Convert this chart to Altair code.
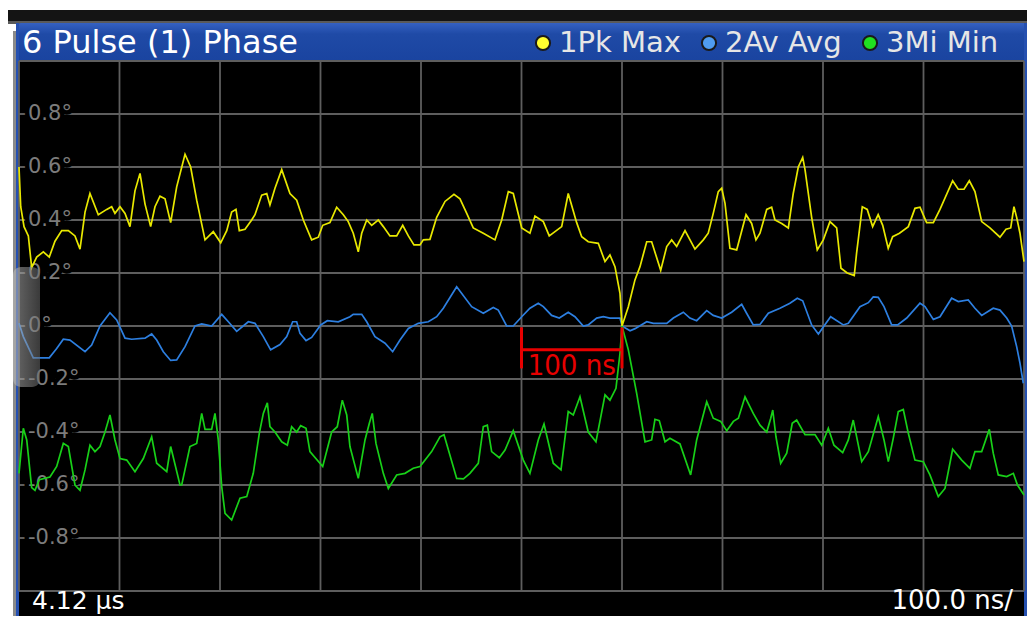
import altair as alt
import pandas as pd

# ---------------- data ----------------
x_grid = [0, 100, 200, 300, 400, 500, 600, 700, 800, 900, 1000]
y_grid = [-1.0, -0.8, -0.6, -0.4, -0.2, 0.0, 0.2, 0.4, 0.6, 0.8, 1.0]
y_tick_values = [0.8, 0.6, 0.4, 0.2, 0.0, -0.2, -0.4, -0.6, -0.8]
y_tick_labels = ["0.8°", "0.6°", "0.4°", "0.2°", "0°", "-0.2°", "-0.4°", "-0.6°", "-0.8°"]

trace_names = ["1Pk Max", "2Av Avg", "3Mi Min"]
trace_colors = ["#e8e800", "#2d7fe0", "#18d018"]
legend_dot_colors = ["#ffff30", "#4f9cf0", "#20e020"]

max_t = [0, 1.7, 5, 9.3, 12.6, 17.6, 24.2, 30.1, 35.8, 42.5, 49.1, 55.7, 60.7, 65.7, 70.6, 78.9,
         87.3, 92.2, 95.5, 100.5, 105.5, 110.4, 115.4, 120.4, 125.4, 131, 135.3, 140.3, 145.3,
         150.9, 156.9, 165.2, 170.8, 176.8, 185.1, 193.3, 200.7, 206.7, 211.6, 215.9, 219.2,
         224.9, 231.5, 234.8, 241.5, 246.5, 249.7, 254.7, 261.4, 269.6, 276.3, 282.9, 291.2,
         297.8, 302.2, 309.4, 316.1, 322.7, 327.6, 332.6, 337.6, 341, 346, 350.9, 357.5, 362.5,
         369.1, 375.8, 381.8, 387.4, 393, 399, 402.3, 408.9, 415.6, 423.9, 432.8, 438.8, 445.5,
         452, 462, 473.6, 480.3, 486.9, 491.8, 500.2, 508.4, 513.4, 521.7, 527.6, 533.3, 540,
         546.5, 554.9, 559.9, 566.4, 576.4, 583.1, 588, 593, 598, 600, 606.3, 612.9, 617.9,
         624.6, 629.5, 638.5, 644.5, 649.4, 654.4, 662.7, 672.6, 680.9, 685.8, 690.8, 695.8,
         699.2, 702.5, 707.4, 714.1, 723.4, 729, 733.3, 737.3, 744, 748.9, 752.2, 758.9, 765.5,
         770.4, 775.4, 779.8, 782.1, 788.7, 794.3, 800.3, 806.9, 813.6, 817.9, 824.1, 831.1,
         833.4, 839.1, 844, 849.4, 854.9, 859.4, 864.9, 869.3, 876.1, 884.9, 891.5, 896.5,
         903.1, 909.8, 916.4, 929, 934.6, 940.3, 945.6, 951.2, 957.9, 966.1, 976.1, 982.1,
         986.8, 990, 992.7, 996, 1000]
max_v = [0.60, 0.45, 0.375, 0.34, 0.22, 0.26, 0.28, 0.26, 0.32, 0.36, 0.36, 0.34, 0.29, 0.43,
         0.50, 0.42, 0.44, 0.45, 0.425, 0.45, 0.425, 0.375, 0.51, 0.576, 0.46, 0.375, 0.45,
         0.49, 0.48, 0.39, 0.525, 0.648, 0.60, 0.475, 0.325, 0.356, 0.314, 0.36, 0.43, 0.44,
         0.36, 0.365, 0.40, 0.42, 0.494, 0.50, 0.457, 0.52, 0.59, 0.50, 0.475, 0.40, 0.325,
         0.335, 0.38, 0.39, 0.448, 0.42, 0.394, 0.35, 0.28, 0.35, 0.40, 0.38, 0.40, 0.375,
         0.34, 0.34, 0.38, 0.34, 0.306, 0.306, 0.325, 0.327, 0.41, 0.47, 0.497, 0.48, 0.425,
         0.37, 0.35, 0.325, 0.40, 0.507, 0.50, 0.37, 0.35, 0.415, 0.394, 0.34, 0.356, 0.375,
         0.50, 0.39, 0.337, 0.318, 0.312, 0.243, 0.268, 0.224, 0.123, 0.0, 0.073, 0.174, 0.224,
         0.318, 0.318, 0.21, 0.30, 0.325, 0.30, 0.36, 0.29, 0.325, 0.35, 0.425, 0.507, 0.52,
         0.463, 0.293, 0.287, 0.42, 0.387, 0.325, 0.35, 0.44, 0.448, 0.40, 0.387, 0.37, 0.50,
         0.60, 0.636, 0.59, 0.41, 0.287, 0.325, 0.394, 0.37, 0.218, 0.20, 0.19, 0.274, 0.45,
         0.44, 0.375, 0.42, 0.38, 0.293, 0.337, 0.35, 0.375, 0.444, 0.448, 0.39, 0.39, 0.44,
         0.548, 0.516, 0.516, 0.548, 0.507, 0.394, 0.37, 0.335, 0.365, 0.37, 0.45, 0.41, 0.35,
         0.243]

avg_t = [0, 4.3, 14.2, 30.1, 37.5, 44.1, 50.7, 65.7, 72.3, 80.6, 90.5, 97.2, 105.5, 112.1,
         125.4, 132, 137, 143.6, 150.9, 156.9, 165.2, 175.1, 181.8, 191.7, 201.7, 208.3, 216.6,
         228.2, 234.8, 243.1, 250.4, 259.7, 266.4, 272.3, 276.3, 279.6, 285.6, 291.2, 300.2,
         306.8, 317.7, 329.3, 332.6, 341, 346, 354.2, 364.2, 371.8, 379.1, 387.4, 397.3, 407.3,
         415.6, 422.2, 435.5, 450.4, 462, 471.9, 476.9, 485.2, 491.8, 500.2, 508.4, 516.7,
         521.7, 530, 537.6, 546.5, 553.2, 561.5, 566.4, 574.8, 581.4, 588, 598, 600, 608, 613,
         624.6, 631.2, 644.5, 651.1, 661, 667.6, 674.3, 684.3, 690.8, 699.2, 709.1, 719.1, 724,
         730.6, 737.3, 745.6, 757.2, 767.1, 774.4, 779.8, 788.7, 795.4, 801, 807.6, 820.2,
         825.2, 836.8, 845.1, 850, 855, 860.7, 868.3, 874.3, 883.3, 896.5, 901.5, 909.8, 916.4,
         928, 934.6, 944.5, 951.2, 957.9, 969.4, 976.1, 982.8, 987.7, 992.7, 996, 999.3]
avg_v = [0.01, -0.04, -0.12, -0.12, -0.085, -0.05, -0.053, -0.097, -0.072, 0.0, 0.05, 0.023,
         -0.046, -0.05, -0.046, -0.03, -0.053, -0.097, -0.13, -0.128, -0.078, 0.0, 0.008, 0.0,
         0.044, 0.016, -0.02, 0.016, 0.01, -0.04, -0.09, -0.07, -0.04, 0.016, 0.016, -0.028,
         -0.055, -0.043, 0.004, 0.02, 0.016, 0.035, 0.044, 0.044, 0.016, -0.04, -0.065, -0.097,
         -0.053, -0.009, 0.01, 0.016, 0.035, 0.067, 0.148, 0.073, 0.048, 0.07, 0.06, 0.0, 0.0,
         0.035, 0.067, 0.086, 0.073, 0.04, 0.03, 0.052, 0.035, 0.0, 0.004, 0.03, 0.035, 0.03,
         0.03, 0.0, -0.018, -0.01, 0.016, 0.01, 0.01, 0.03, 0.052, 0.03, 0.02, 0.058, 0.04,
         0.03, 0.052, 0.082, 0.048, 0.004, 0.006, 0.048, 0.067, 0.086, 0.105, 0.095, 0.004,
         -0.03, 0.0, 0.035, 0.004, 0.01, 0.073, 0.088, 0.11, 0.108, 0.073, 0.004, 0.004, 0.03,
         0.086, 0.073, 0.025, 0.035, 0.105, 0.092, 0.098, 0.067, 0.04, 0.067, 0.06, 0.03, 0.0,
         -0.078, -0.14, -0.216]

min_t = [0, 4.3, 7.7, 12.6, 15.9, 20.2, 30.8, 37.5, 44.1, 49.1, 55.7, 60.7, 65.7, 70.6, 75.6,
         80.6, 85.6, 90.5, 95.5, 100.5, 107.2, 115.4, 123.7, 132, 137, 147, 150.9, 160.2,
         161.9, 170.1, 176.8, 181.8, 185.1, 191.7, 195, 198.3, 201.7, 205, 211.6, 219.9, 226.6,
         233.1, 239.1, 243.1, 247.1, 249.7, 254.7, 261.4, 267, 271.3, 276.3, 280.3, 285.6,
         289.5, 302.2, 311.1, 316.7, 321.7, 326.1, 329.3, 337.6, 344.3, 348.6, 351.5, 355.2,
         362.5, 367.5, 375.8, 384.1, 392.3, 399, 410.6, 418.9, 422.9, 435.5, 442.2, 448.7, 457,
         462, 466, 470.3, 477.9, 483.6, 491.8, 501.8, 508.4, 516.7, 522.4, 531.6, 539.3, 546.5,
         551.5, 558.2, 566.4, 574.1, 583.1, 588, 594, 598, 600, 606.3, 614.6, 622.9, 629.5,
         632.8, 637.1, 642.8, 647.7, 657.7, 668.3, 674.3, 684.3, 690.8, 698.2, 704.2, 710.8,
         715.8, 722.4, 730.6, 737.3, 744, 748, 750, 753.2, 757.9, 763.9, 769.4, 773.8, 782.1,
         792, 798.7, 805.3, 810.9, 819.6, 825.2, 830.1, 838.5, 845.1, 855, 860.7, 865, 869.9,
         874.9, 879.9, 884.9, 891.5, 899.8, 906.4, 914.7, 921.4, 929, 938, 946.2, 951.2, 957.9,
         965.5, 969.4, 974.4, 982.8, 989.4, 993.5, 1000]
min_v = [-0.556, -0.386, -0.43, -0.61, -0.62, -0.58, -0.57, -0.53, -0.443, -0.455, -0.60,
         -0.62, -0.543, -0.45, -0.474, -0.455, -0.40, -0.336, -0.43, -0.50, -0.506, -0.55,
         -0.50, -0.418, -0.518, -0.55, -0.455, -0.60, -0.60, -0.455, -0.443, -0.33, -0.39,
         -0.39, -0.33, -0.43, -0.606, -0.707, -0.732, -0.65, -0.644, -0.556, -0.405, -0.33,
         -0.29, -0.38, -0.40, -0.437, -0.45, -0.38, -0.40, -0.376, -0.386, -0.474, -0.53,
         -0.40, -0.38, -0.28, -0.336, -0.455, -0.575, -0.43, -0.367, -0.33, -0.443, -0.556,
         -0.613, -0.562, -0.556, -0.537, -0.53, -0.474, -0.418, -0.41, -0.575, -0.577, -0.556,
         -0.518, -0.38, -0.374, -0.474, -0.497, -0.468, -0.395, -0.506, -0.556, -0.43, -0.37,
         -0.518, -0.543, -0.323, -0.336, -0.267, -0.40, -0.437, -0.26, -0.28, -0.235, -0.103,
         0.0, -0.09, -0.254, -0.437, -0.43, -0.352, -0.357, -0.437, -0.424, -0.445, -0.562,
         -0.43, -0.286, -0.348, -0.36, -0.395, -0.36, -0.348, -0.267, -0.33, -0.374, -0.40,
         -0.348, -0.317, -0.418, -0.518, -0.48, -0.367, -0.355, -0.41, -0.41, -0.45, -0.386,
         -0.45, -0.478, -0.43, -0.355, -0.512, -0.474, -0.342, -0.43, -0.512, -0.424, -0.323,
         -0.315, -0.405, -0.506, -0.512, -0.562, -0.644, -0.613, -0.465, -0.506, -0.537,
         -0.474, -0.474, -0.39, -0.48, -0.562, -0.568, -0.556, -0.60, -0.638]

marker_t = [500, 600]
marker_level = -0.09
marker_tick_top = -0.005
marker_tick_bottom = -0.16
marker_label = "100 ns"
marker_label_t = 550
marker_label_v = -0.15

title_text = "6 Pulse (1) Phase"
start_label = "4.12 µs"
scale_label = "100.0 ns/"

# ---------------- tables ----------------
traces = pd.concat([
    pd.DataFrame({"t": avg_t, "v": avg_v, "trace": trace_names[1]}),
    pd.DataFrame({"t": max_t, "v": max_v, "trace": trace_names[0]}),
    pd.DataFrame({"t": min_t, "v": min_v, "trace": trace_names[2]}),
], ignore_index=True)
vgrid = pd.DataFrame({"t": x_grid})
hgrid = pd.DataFrame({"v": y_grid})
ticks = pd.DataFrame({"v": y_tick_values, "label": y_tick_labels})
marker_h = pd.DataFrame({"t": [marker_t[0]], "t2": [marker_t[1]], "v": [marker_level]})
marker_v = pd.DataFrame({"t": marker_t, "v": [marker_tick_top] * 2, "v2": [marker_tick_bottom] * 2})
marker_txt = pd.DataFrame({"t": [marker_label_t], "v": [marker_label_v], "label": [marker_label]})
one = pd.DataFrame({"d": [0]})

W, H = 1005, 530
xs = alt.Scale(domain=[0, 1000], nice=False, zero=False)
ys = alt.Scale(domain=[-1, 1], nice=False, zero=False)
X = alt.X("t:Q", scale=xs, axis=None)
Y = alt.Y("v:Q", scale=ys, axis=None)
FONT = "DejaVu Sans"
BOTTOM = 556  # bottom of the drawing, in plot pixels


def box(x1, x2, y1, y2, **mk):
    return alt.Chart(one).mark_rect(**mk).encode(
        x=alt.value(x1), x2=alt.value(x2), y=alt.value(y1), y2=alt.value(y2))


def label(txt, x, y, **mk):
    return alt.Chart(pd.DataFrame({"s": [txt]})).mark_text(**mk).encode(
        text="s:N", x=alt.value(x), y=alt.value(y))


# frame decorations
frame = [
    box(-11, 1008, -51, -39, color="#141414"),
    box(-11, 1008, -40, -37, color="#5a5a5a"),
    box(-3, 1008, -38, -1, cornerRadiusTopLeft=6,
        color=alt.Gradient(gradient="linear", x1=0, x2=0, y1=0, y2=1,
                           stops=[alt.GradientStop(color="#3561c2", offset=0),
                                  alt.GradientStop(color="#1f4aa6", offset=0.3),
                                  alt.GradientStop(color="#1a44a0", offset=1)])),
    box(-3, 0, -38, BOTTOM, color="#2550b0"),
    box(-6, -3, -30, BOTTOM, color="#8a8a8a"),
    box(0, 1006, 530, BOTTOM, color="#000000"),
    box(1005, 1008, -38, BOTTOM, color="#2550b0"),
]

vlines = alt.Chart(vgrid).mark_rule(color="#5e5e5e", strokeWidth=1.8).encode(x=X)
hlines = alt.Chart(hgrid).mark_rule(color="#5e5e5e", strokeWidth=1.8).encode(y=Y)

tick_knock = alt.Chart(ticks).mark_text(
    align="left", baseline="middle", font=FONT, fontSize=21, color="#000000",
    stroke="#000000", strokeWidth=9, strokeJoin="round").encode(
    x=alt.value(9), y=Y, text="label:N")
tick_text = alt.Chart(ticks).mark_text(
    align="left", baseline="middle", font=FONT, fontSize=21, color="#7c7c7c").encode(
    x=alt.value(9), y=Y, text="label:N")

lines = alt.Chart(traces).mark_line(strokeWidth=1.7, interpolate="linear").encode(
    x=X, y=Y,
    color=alt.Color("trace:N", scale=alt.Scale(domain=trace_names, range=trace_colors), legend=None),
    detail="trace:N")

red = "#e80000"
m_h = alt.Chart(marker_h).mark_rule(color=red, strokeWidth=3).encode(
    x=X, x2="t2:Q", y=Y)
m_v = alt.Chart(marker_v).mark_rule(color=red, strokeWidth=3).encode(
    x=X, y=Y, y2="v2:Q")
m_t = alt.Chart(marker_txt).mark_text(
    align="center", baseline="middle", color=red, fontSize=29,
    font="Liberation Sans Narrow, DejaVu Sans Condensed, Liberation Sans").encode(
    x=X, y=Y, text="label:N")

texts = [
    label(title_text, 3, -18, align="left", baseline="middle", font=FONT, fontSize=32, color="#ffffff"),
    label(start_label, 13, 540, align="left", baseline="middle", font=FONT, fontSize=25, color="#ffffff"),
    label(scale_label, 994, 540, align="right", baseline="middle", font=FONT, fontSize=26, color="#ffffff"),
]

legend_x = [524, 690, 851]
legend = []
for name, col, lx in zip(trace_names, legend_dot_colors, legend_x):
    legend.append(alt.Chart(pd.DataFrame({"s": [name]})).mark_point(
        filled=True, shape="circle", size=200, color=col, stroke="#1a1a1a",
        strokeWidth=2, opacity=1).encode(x=alt.value(lx), y=alt.value(-18)))
    legend.append(label(name, lx + 16, -18, align="left", baseline="middle",
                        font=FONT, fontSize=29, color="#e6e6e6"))

tab = box(-6, 21, 206, 326, cornerRadius=8, opacity=0.55,
          color=alt.Gradient(gradient="linear", x1=0, x2=1, y1=0, y2=0,
                             stops=[alt.GradientStop(color="#c0c0c0", offset=0),
                                    alt.GradientStop(color="#6a6a6a", offset=1)]))

chart = alt.layer(
    *frame, vlines, hlines, tick_knock, tick_text, lines, m_h, m_v, m_t,
    *texts, *legend, tab
).properties(
    width=W, height=H,
    padding={"left": 11, "top": 53, "right": 3, "bottom": 25},
    autosize=alt.AutoSizeParams(type="none"),
).configure(background="#ffffff").configure_view(fill="#000000", stroke=None)

chart.save("out.html", embed_options={"renderer": "svg", "actions": False})
